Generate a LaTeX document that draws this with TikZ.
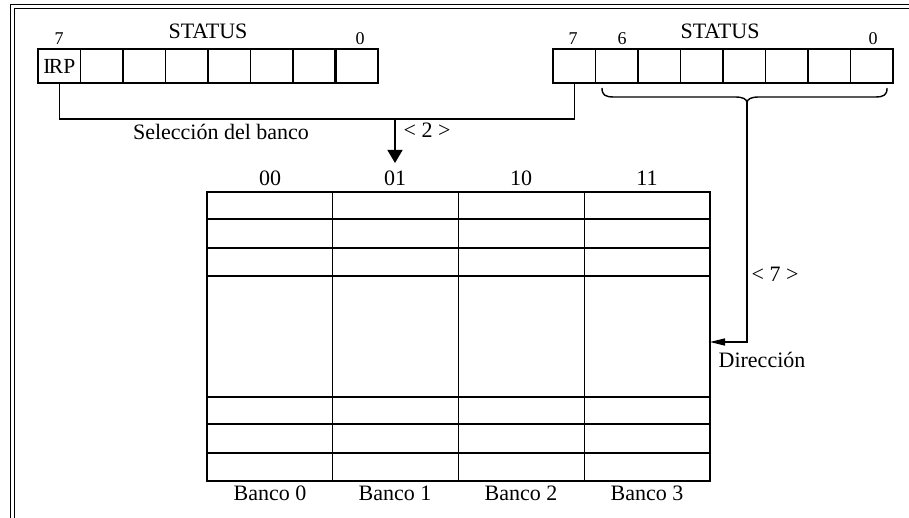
\documentclass[tikz,border=0pt]{standalone}
\usepackage{fontspec}
\setmainfont{Liberation Serif}
\usetikzlibrary{arrows.meta}
\begin{document}
\begin{tikzpicture}[x=1pt,y=-1pt,
  cell/.style={draw, line width=1.4pt, minimum width=42.5pt, minimum height=34pt,
    inner sep=0pt, outer sep=0pt, anchor=north west},
  lbl/.style={font=\fontsize{22}{26}\selectfont, inner sep=0pt, anchor=base},
  bitno/.style={font=\fontsize{18}{21}\selectfont, inner sep=0pt, anchor=base},
  wire/.style={line width=1.4pt},
  rule/.style={line width=1.4pt},
  heavyrule/.style={line width=2.6pt},
  frame/.style={line width=1.8pt}]
\useasboundingbox (0,0) rectangle (909,518);
\fill[white] (0,0) rectangle (909,518);

% double frame (top and left)
\draw[frame] (10.5,518) -- (10.5,4.5) -- (909,4.5);
\draw[frame] (14.5,518) -- (14.5,8.5) -- (909,8.5);

% STATUS register with IRP (left)
\node[cell] (L0) at (38,49) {\fontsize{21.5}{24}\selectfont I\kern-1.5ptRP};
\foreach \i in {1,...,7}
  \node[cell] (L\i) at ({38+\i*42.5},49) {};
\draw[line width=2.2pt] (L7.north west) -- (L7.south west);
\node[lbl] (lstatus) at (208,39) {STATUS};
\node[bitno] (l7) at (59,45) {7};
\node[bitno] (l0) at (360,45) {0};

% STATUS register (right)
\foreach \i in {0,...,7}
  \node[cell] (R\i) at ({553+\i*42.5},49) {};
\node[lbl] (rstatus) at (720,39) {STATUS};
\node[bitno] (r7) at (573,45) {7};
\node[bitno] (r6) at (622,45) {6};
\node[bitno] (r0) at (873,45) {0};

% bank selection bus
\coordinate (bus) at (395,119);
\coordinate (bustip) at (395,163);
\draw[wire] (L0.south) -- (L0.south |- bus) -| (R0.south);
\draw[wire,-{Triangle[width=15pt,length=13pt]}] (bus) -- (bustip);
\node[lbl] (sel) at (221,140) {Selección del banco};
\node[lbl] (n2) at (427,138) {< 2 >};

% memory banks
\node[draw, rule, minimum width=503pt, minimum height=289pt, inner sep=0pt,
  outer sep=0pt, anchor=north west] (mem) at (207,192) {};
\foreach \x in {332.75,458.5,584.25}
  \draw[rule] (\x,192) -- (\x,481);
\foreach \y in {219,248,276,397,453}
  \draw[rule] (207,\y) -- (710,\y);
\draw[heavyrule] (mem.north west) -- (mem.north east);
\draw[heavyrule] (207,424) -- (710,424);
\foreach \c/\t [count=\k from 0] in {270/00,395/01,521/10,647/11} {
  \node[lbl] (code\t) at (\c,186) {\t};
  \node[lbl] (banco\k) at (\c,500) {Banco \k};
}

% address brace and arrow
\draw[wire] (602,88) .. controls (602,95) and (605,97) .. (614,97) -- (735,97)
  .. controls (743,97) and (747,99) .. (747,103)
  .. controls (747,99) and (751,97) .. (759,97) -- (875,97)
  .. controls (884,97) and (887,95) .. (887,88);
\coordinate (brace) at (747,103);
\coordinate (addr) at (747,342);
\draw[wire,-{Triangle[width=7pt,length=15pt]}] (brace) -- (addr) -- (mem.east |- addr);
\node[lbl] (n7) at (775,281) {< 7 >};
\node[lbl] (dir) at (762,367) {Dirección};
\end{tikzpicture}
\end{document}
